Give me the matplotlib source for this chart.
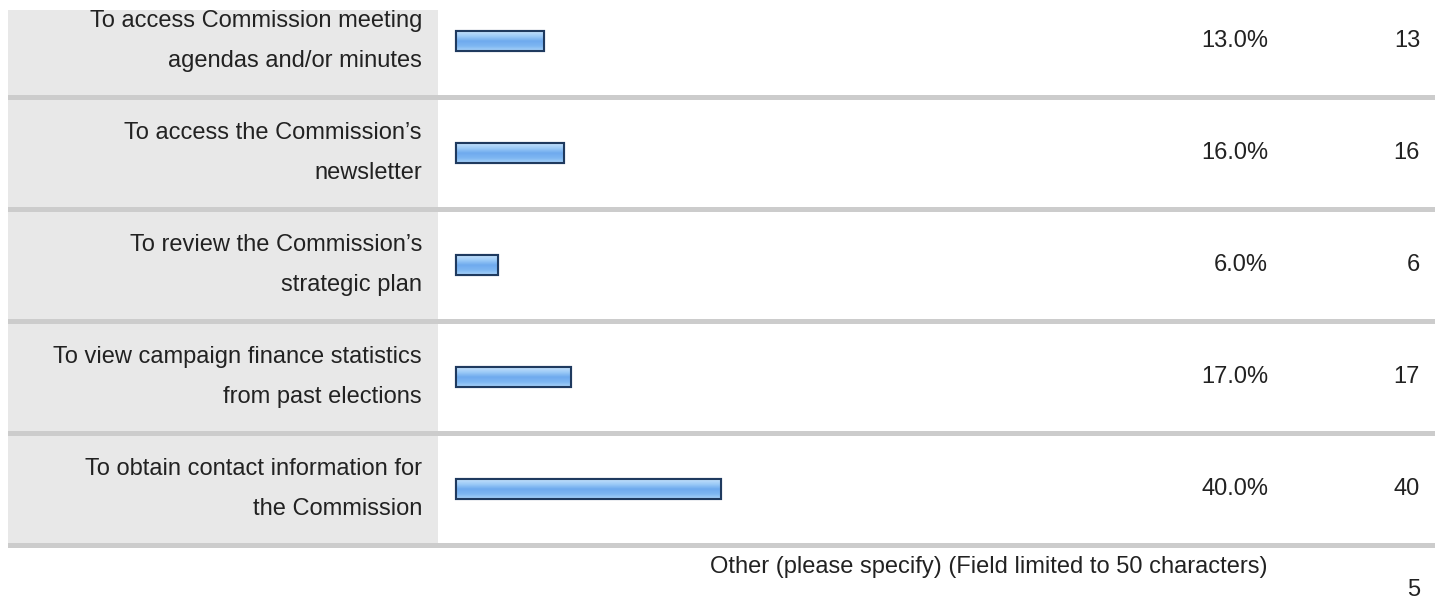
import matplotlib.pyplot as plt
import numpy as np
import matplotlib
matplotlib.rcParams['font.family'] = ['Liberation Sans', 'DejaVu Sans']

# data
labels = ["To access Commission meeting\nagendas and/or minutes",
          "To access the Commission\u2019s\nnewsletter",
          "To review the Commission\u2019s\nstrategic plan",
          "To view campaign finance statistics\nfrom past elections",
          "To obtain contact information for\nthe Commission"]
percents = [13.0, 16.0, 6.0, 17.0, 40.0]
counts = [13, 16, 6, 17, 40]
other_label = "Other (please specify) (Field limited to 50 characters)"
other_count = 5

W, H = 1435, 611
fig = plt.figure(figsize=(W / 100, H / 100), dpi=100)
ax = fig.add_axes([0, 0, 1, 1])
ax.set_xlim(0, W)
ax.set_ylim(H, 0)
ax.axis('off')

pitch = 112
bar_left = 456
px_per_pct = 6.56
bar_h = 20
fs = 17
grad = np.linspace(0, 1, 50).reshape(-1, 1)
cmap = matplotlib.colors.LinearSegmentedColormap.from_list(
    'b', ['#c4e0fb', '#9ccbf7', '#6faaee', '#7db6f2', '#a9d2f8'])

for i, (lab, p, c) in enumerate(zip(labels, percents, counts)):
    top = 10 if i == 0 else 100 + pitch * (i - 1)
    bottom = 95 + pitch * i
    ax.add_patch(plt.Rectangle((8, top), 430, bottom - top, color='#e8e8e8', lw=0))
    ax.add_patch(plt.Rectangle((8, bottom), W - 8, 5, color='#cccccc', lw=0))
    yc = 41 + pitch * i
    ax.text(422, yc, lab, ha='right', va='center', fontsize=fs,
            color='#222222', linespacing=2.1)
    w = p * px_per_pct + 3
    bars = ax.barh([yc], [w], left=bar_left, height=bar_h,
                   facecolor='#8ec2f5', edgecolor='#1f3a5f', linewidth=1.5)
    im = ax.imshow(grad, cmap=cmap, aspect='auto',
                   extent=(bar_left, bar_left + w, yc + bar_h / 2, yc - bar_h / 2), zorder=2)
    im.set_clip_path(bars[0])
    ax.add_patch(plt.Rectangle((bar_left, yc - bar_h / 2), w, bar_h,
                               fill=False, edgecolor='#1f3a5f', lw=1.5, zorder=3))
    ax.text(1268, yc, f"{p:.1f}%", ha='right', va='center', fontsize=fs, color='#222222')
    ax.text(1420, yc, str(c), ha='right', va='center', fontsize=fs, color='#222222')

ax.text(1268, 567, other_label, ha='right', va='center', fontsize=fs, color='#222222')
ax.text(1420, 590, str(other_count), ha='right', va='center', fontsize=fs, color='#222222')

fig.savefig('out.png', dpi=100)
